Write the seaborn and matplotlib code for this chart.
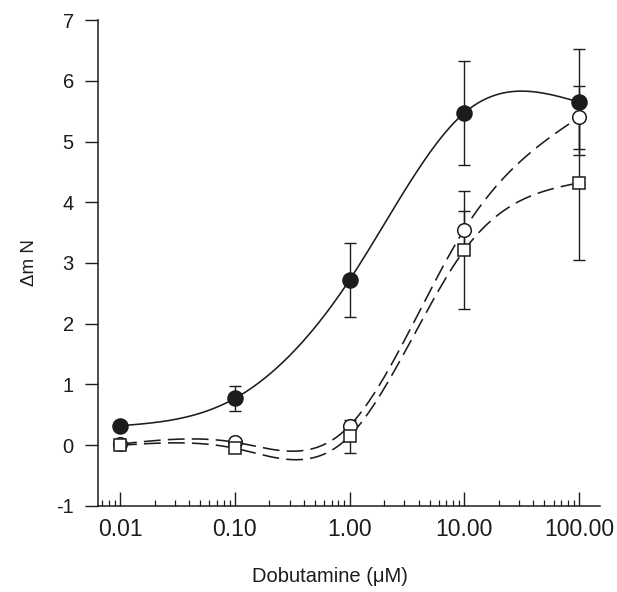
"""
Dobutamine concentration-response curves (delta mN) - recreated with seaborn
"""

import numpy as np
import pandas as pd
import matplotlib
matplotlib.use('Agg')
import matplotlib.pyplot as plt
import seaborn as sns
from matplotlib.ticker import LogLocator, FixedLocator, NullFormatter

# Data
dose = [0.01, 0.1, 1.0, 10.0, 100.0]
tick_labels = ['0.01', '0.10', '1.00', '10.00', '100.00']

filled_mean = [0.32, 0.77, 2.72, 5.47, 5.65]
filled_err = [0.05, 0.21, 0.61, 0.86, 0.87]

circle_mean = [0.02, 0.05, 0.32, 3.55, 5.40]
circle_err = [0.03, 0.05, 0.05, 0.30, 0.52]

square_mean = [0.00, -0.05, 0.15, 3.21, 4.32]
square_err = [0.03, 0.05, 0.27, 0.97, 1.27]

INK = '#1c1c1c'


def natural_spline(t, y, n=300):
    """Smooth curve through the points (natural cubic spline in log dose)"""
    t = np.asarray(t, float)
    y = np.asarray(y, float)
    h = np.diff(t)
    k = len(t)
    A = np.zeros((k, k))
    rhs = np.zeros(k)
    A[0, 0] = A[-1, -1] = 1.0
    for i in range(1, k - 1):
        A[i, i - 1] = h[i - 1]
        A[i, i] = 2 * (h[i - 1] + h[i])
        A[i, i + 1] = h[i]
        rhs[i] = 6 * ((y[i + 1] - y[i]) / h[i] - (y[i] - y[i - 1]) / h[i - 1])
    M = np.linalg.solve(A, rhs)
    tt = np.linspace(t[0], t[-1], n)
    idx = np.clip(np.searchsorted(t, tt) - 1, 0, k - 2)
    a = t[idx + 1] - tt
    b = tt - t[idx]
    hi = h[idx]
    yy = (M[idx] * a ** 3 + M[idx + 1] * b ** 3) / (6 * hi) \
        + (y[idx] / hi - M[idx] * hi / 6) * a \
        + (y[idx + 1] / hi - M[idx + 1] * hi / 6) * b
    return 10 ** tt, yy


sns.set_style('ticks')
plt.rcParams['font.family'] = ['Liberation Sans', 'DejaVu Sans']
plt.rcParams['axes.unicode_minus'] = False

fig = plt.figure(figsize=(6.17, 5.92), dpi=100)
ax = fig.add_axes([0.159, 0.1453, 0.8134, 0.8209])

dashed = (0, (10.5, 4.5))
series = [
    ('filled', filled_mean, filled_err, 'o', INK, '-', 10.8),
    ('circle', circle_mean, circle_err, 'o', 'white', dashed, 9.8),
    ('square', square_mean, square_err, 's', 'white', dashed, 9.0),
]

log_dose = np.log10(dose)
for name, mean, err, marker, face, ls, ms in series:
    xs, ys = natural_spline(log_dose, mean)
    curve = pd.DataFrame({'x': xs, 'y': ys})
    sns.lineplot(data=curve, x='x', y='y', ax=ax, color=INK, lw=1.15,
                 linestyle=ls, zorder=2)
    ax.errorbar(dose, mean, yerr=err, fmt='none', ecolor=INK, elinewidth=1.0,
                capsize=4.5, capthick=1.0, zorder=3)

for name, mean, err, marker, face, ls, ms in series:
    ax.plot(dose, mean, linestyle='none', marker=marker, ms=ms,
            mfc=face, mec=INK, mew=1.1, zorder=4)

ax.set_xscale('log')
ax.set_xlim(0.00643, 152.4)
ax.set_ylim(-1, 7)

ax.xaxis.set_major_locator(FixedLocator(dose))
ax.set_xticklabels(tick_labels)
ax.xaxis.set_minor_locator(LogLocator(base=10, subs=np.arange(2, 10)))
ax.xaxis.set_minor_formatter(NullFormatter())
ax.set_yticks(range(-1, 8))

ax.tick_params(axis='x', which='major', direction='in', length=10, width=1.0,
               pad=9, labelsize=16.5, colors=INK)
ax.tick_params(axis='x', which='minor', direction='in', length=4.5, width=0.9,
               colors=INK)
ax.tick_params(axis='y', which='major', direction='out', length=9.5, width=1.0,
               pad=8, labelsize=14.5, colors=INK)

sns.despine(ax=ax)
for side in ['left', 'bottom']:
    ax.spines[side].set_color(INK)
    ax.spines[side].set_linewidth(1.1)

ax.set_xlabel('Dobutamine (\u03bcM)', fontsize=14.5, color=INK)
ax.xaxis.set_label_coords(0.462, -0.125)
ax.set_ylabel('\u0394m N', fontsize=13.5, color=INK, labelpad=13)

fig.savefig('out.png', dpi=100)
